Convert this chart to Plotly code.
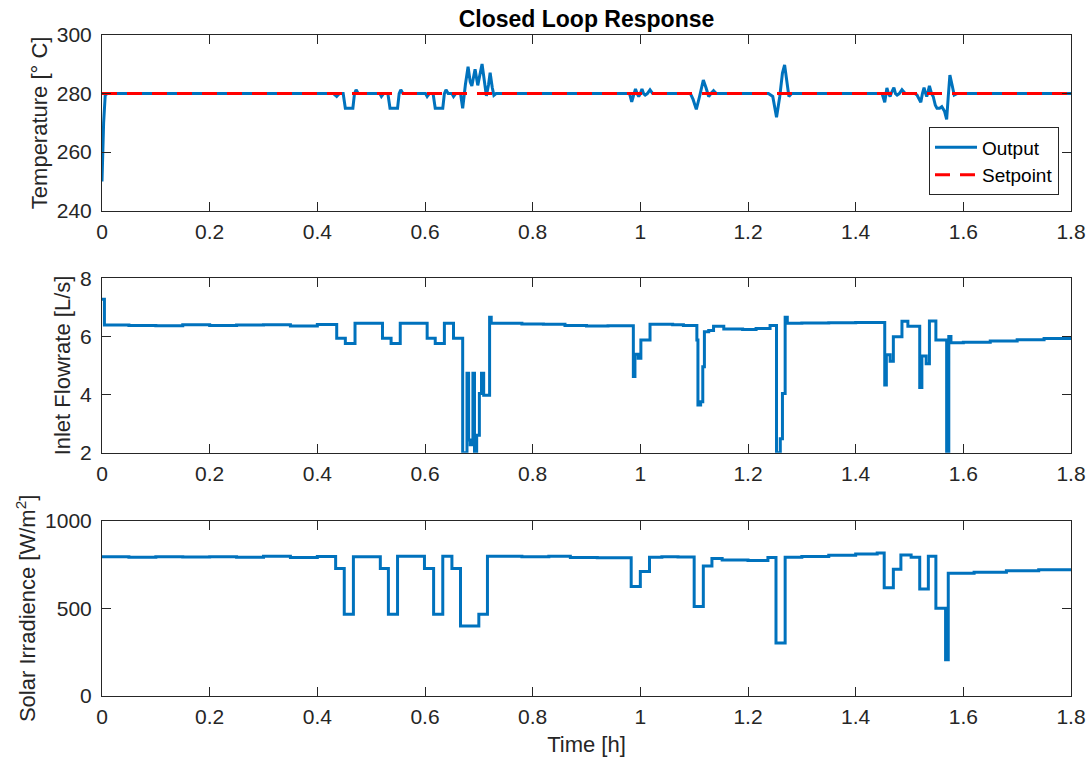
import plotly.graph_objects as go

# ---- Temperature response (h, °C) ----
temp_t = [0, 0.003, 0.006, 0.01, 0.43, 0.436, 0.441, 0.448, 0.452, 0.466, 0.469, 0.472, 0.476,
          0.516, 0.519, 0.523, 0.531, 0.535, 0.549, 0.552, 0.555, 0.559,
          0.601, 0.604, 0.608, 0.615, 0.619, 0.633, 0.636, 0.639, 0.643, 0.650, 0.653, 0.657,
          0.666, 0.670, 0.675, 0.680, 0.684, 0.687, 0.693, 0.698, 0.706, 0.710, 0.714, 0.718,
          0.721, 0.725, 0.728, 0.732,
          0.980, 0.984, 0.988, 0.991, 0.994, 0.997, 1.000, 1.003, 1.006, 1.009, 1.013, 1.018, 1.023,
          1.093, 1.098, 1.104, 1.110, 1.117, 1.122, 1.127, 1.131, 1.136, 1.141,
          1.238, 1.246, 1.253, 1.259, 1.264, 1.268, 1.272, 1.276, 1.281,
          1.449, 1.454, 1.458, 1.461, 1.464, 1.467, 1.471, 1.474, 1.477, 1.481, 1.486, 1.492,
          1.510, 1.514, 1.518, 1.521, 1.524, 1.527, 1.530, 1.532, 1.535, 1.537, 1.541, 1.544,
          1.548, 1.551, 1.556, 1.560, 1.565, 1.569, 1.572, 1.575, 1.579, 1.583, 1.588, 1.8]
temp_out = [250, 270, 279.5, 280, 280, 279.0, 280, 280, 275, 275, 280, 281.3, 280,
            280, 279.0, 280, 280, 275, 275, 280, 281.3, 280,
            280, 279.0, 280, 280, 275, 275, 280, 281.3, 280, 280, 279.0, 280,
            280, 275, 283, 289.2, 284, 282.6, 288.3, 282.8, 290.1, 284, 279.2, 283,
            287.1, 282, 279.4, 280,
            280, 277.2, 280, 281.6, 280, 279, 280, 281.6, 280, 279.5, 280, 281.3, 280,
            280, 278, 274.6, 279, 284.6, 282, 279, 280, 281, 280,
            280, 279, 271.9, 279, 287, 289.8, 285, 279, 280,
            280, 277, 281.9, 280, 279, 280.5, 282, 280, 279.5, 280, 281.3, 280,
            280, 279.5, 278, 277, 280, 282, 280, 279, 281, 282.6, 280, 279,
            276, 275, 275, 275.5, 274, 271.2, 279, 286.3, 283, 279.5, 280, 280]
setpoint_t = [0, 1.8]
setpoint_val = [280, 280]

# ---- Inlet flowrate (L/s), sample-and-hold ----
flow_t = [0, 0.0045, 0.05, 0.1, 0.15, 0.2, 0.25, 0.3, 0.35, 0.4,
          0.436, 0.452, 0.470, 0.521, 0.537, 0.554, 0.604, 0.619, 0.636, 0.653,
          0.670, 0.678, 0.681, 0.684, 0.689, 0.692, 0.696, 0.701, 0.705, 0.709, 0.720, 0.723,
          0.78, 0.82, 0.86, 0.9, 0.94,
          0.987, 0.990, 0.996, 1.001, 1.018, 1.06, 1.08,
          1.105, 1.107, 1.112, 1.116, 1.119, 1.127, 1.136, 1.155, 1.19, 1.215, 1.241,
          1.253, 1.260, 1.264, 1.269, 1.273, 1.3, 1.35, 1.4,
          1.454, 1.457, 1.464, 1.470, 1.486, 1.497, 1.519, 1.523, 1.531, 1.537, 1.549,
          1.569, 1.571, 1.572, 1.573, 1.577, 1.6, 1.65, 1.7, 1.75, 1.8]
flow_val = [7.28, 6.39, 6.38, 6.37, 6.40, 6.38, 6.39, 6.40, 6.36, 6.41,
            5.94, 5.76, 6.45, 5.94, 5.76, 6.45, 5.94, 5.76, 6.45, 5.94,
            2.0, 4.73, 2.44, 2.27, 4.73, 2.04, 2.6, 4.04, 4.73, 3.98, 6.66, 6.45,
            6.43, 6.42, 6.38, 6.36, 6.37,
            4.62, 5.39, 5.25, 5.88, 6.42, 6.40, 6.38,
            5.88, 3.64, 3.75, 4.96, 6.16, 6.2, 6.35, 6.26, 6.24, 6.27, 6.38,
            2.0, 2.48, 4.04, 6.66, 6.45, 6.46, 6.47, 6.48,
            4.33, 5.37, 5.15, 5.99, 6.52, 6.35, 4.24, 5.33, 5.06, 6.53, 5.88,
            2.0, 5.8, 2.0, 6.0, 5.78, 5.80, 5.84, 5.89, 5.93, 5.98]

# ---- Solar irradiance (W/m^2), sample-and-hold ----
irr_t = [0, 0.05, 0.1, 0.15, 0.2, 0.25, 0.3, 0.35, 0.4,
         0.434, 0.450, 0.467, 0.517, 0.532, 0.549, 0.599, 0.616, 0.633, 0.650, 0.666, 0.700, 0.716,
         0.78, 0.83, 0.87, 0.92,
         0.983, 1.000, 1.017, 1.04, 1.07,
         1.100, 1.117, 1.133, 1.152, 1.2, 1.237, 1.252, 1.269,
         1.30, 1.35, 1.40, 1.44,
         1.453, 1.470, 1.484, 1.503, 1.519, 1.535, 1.549, 1.567, 1.572,
         1.62, 1.68, 1.74, 1.8]
irr_val = [795, 792, 795, 793, 795, 792, 797, 790, 796,
           727, 467, 795, 727, 467, 797, 727, 467, 797, 727, 400, 467, 797,
           795, 797, 790, 788,
           624, 710, 791, 795, 793,
           510, 742, 785, 776, 773, 790, 302, 791,
           796, 803, 810, 816,
           618, 723, 805, 791, 610, 797, 501, 207, 700,
           706, 714, 720, 725]

x_ticks = [0, 0.2, 0.4, 0.6, 0.8, 1.0, 1.2, 1.4, 1.6, 1.8]
x_tick_labels = ["0", "0.2", "0.4", "0.6", "0.8", "1", "1.2", "1.4", "1.6", "1.8"]

BLUE = "#0072BD"
RED = "#FF0000"
AX = "#262626"
FONT = "Liberation Sans, Arial, Helvetica, sans-serif"

fig = go.Figure()
fig.add_trace(go.Scatter(x=temp_t, y=temp_out, mode="lines", name="Output",
                         line=dict(color=BLUE, width=3), xaxis="x", yaxis="y"))
fig.add_trace(go.Scatter(x=setpoint_t, y=setpoint_val, mode="lines", name="Setpoint",
                         line=dict(color=RED, width=3, dash="15px,10px"), xaxis="x", yaxis="y"))
fig.add_trace(go.Scatter(x=flow_t, y=flow_val, mode="lines", showlegend=False,
                         line=dict(color=BLUE, width=3, shape="hv"), xaxis="x2", yaxis="y2"))
fig.add_trace(go.Scatter(x=irr_t, y=irr_val, mode="lines", showlegend=False,
                         line=dict(color=BLUE, width=3, shape="hv"), xaxis="x3", yaxis="y3"))

W, H = 1091, 765
ml, mr, mt, mb = 102, 20, 35, 69


def xax(anchor, title=None):
    d = dict(domain=[0, 1], anchor=anchor, range=[0, 1.8], tickvals=x_ticks, ticktext=x_tick_labels,
             ticks="inside", ticklen=9, tickcolor=AX, showline=True, linecolor=AX, linewidth=1,
             mirror="ticks", showgrid=False, zeroline=False,
             tickfont=dict(family=FONT, size=21, color=AX), ticklabelstandoff=2)
    if title:
        d["title"] = dict(text=title, font=dict(family=FONT, size=22, color=AX), standoff=9)
    return d


def yax(anchor, domain, rng, ticks, title):
    return dict(domain=domain, anchor=anchor, range=rng, tickvals=ticks,
                ticks="inside", ticklen=9, tickcolor=AX, showline=True, linecolor=AX, linewidth=1,
                mirror="ticks", showgrid=False, zeroline=False,
                tickfont=dict(family=FONT, size=21, color=AX), ticklabelstandoff=5,
                title=dict(text=title, font=dict(family=FONT, size=22, color=AX), standoff=3))


ph = H - mt - mb


def dom(top_px, bot_px):
    lo = max(0.0, (H - mb - bot_px) / ph)
    hi = min(1.0, (H - mb - top_px) / ph)
    return [lo, hi]


fig.update_layout(
    width=W, height=H,
    template="none",
    paper_bgcolor="white", plot_bgcolor="white",
    margin=dict(l=ml, r=mr, t=mt, b=mb, autoexpand=False),
    font=dict(family=FONT, color=AX),
    title=dict(text="<b>Closed Loop Response</b>", x=0.5, xref="paper", xanchor="center",
               y=1 - 19 / H, yanchor="middle", font=dict(family=FONT, size=23, color="black")),
    xaxis=xax("y"),
    xaxis2=xax("y2"),
    xaxis3=xax("y3", "Time [h]"),
    yaxis=yax("x", dom(35, 210.7), [240, 300], [240, 260, 280, 300], "Temperature [° C]"),
    yaxis2=yax("x2", dom(278.3, 452.7), [2, 8], [2, 4, 6, 8], "Inlet Flowrate [L/s]"),
    yaxis3=yax("x3", dom(520.7, 696.3), [0, 1000], [0, 500, 1000], "Solar Irradience [W/m<sup>2</sup>]"),
    legend=dict(x=(1059 - ml) / (W - ml - mr), xanchor="right",
                y=(H - mb - 127.3) / ph, yanchor="top",
                bgcolor="white", bordercolor=AX, borderwidth=1, itemwidth=42,
                font=dict(family=FONT, size=19, color="black"), tracegroupgap=0),
    showlegend=True,
)

fig.write_html("out.html")
